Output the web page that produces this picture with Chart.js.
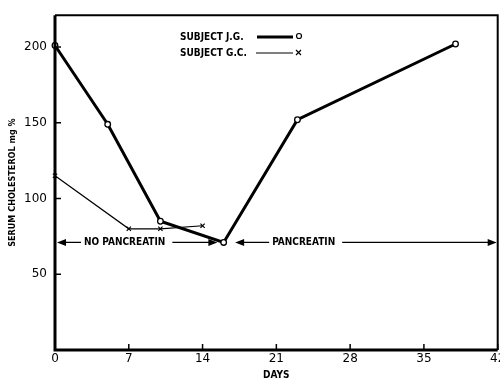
<!DOCTYPE html>
<html>
<head>
<script src="https://cdn.jsdelivr.net/npm/chart.js@4.4.1/dist/chart.umd.min.js"></script>
<style>
	body { margin: 0; background: #fff; overflow: hidden; }
	#wrap { width: 500px; height: 381px; overflow: hidden; }
</style>
</head>
<body>
<div id="wrap"><canvas id="myChart" width="503" height="381"></canvas></div>
<script>
	// serum cholesterol, mg %, by day
	var jgDays = [0, 5, 10, 16, 23, 38];
	var jgValues = [201, 149, 85, 71, 152, 202];
	var gcDays = [0, 7, 10, 14];
	var gcValues = [115, 80, 80, 82];
	var xTicks = [0, 7, 14, 21, 28, 35, 42];
	var yTicks = [50, 100, 150, 200];
	var seriesNames = ['SUBJECT J.G.', 'SUBJECT G.C.'];
	// treatment periods: [start day, end day, label]
	var periods = [[0, 15.5, 'NO PANCREATIN'], [16.9, 42, 'PANCREATIN']];
	var periodLevel = 71;

	var FONT = '"DejaVu Sans Condensed", "DejaVu Sans", sans-serif';
	var TICKFONT = '"DejaVu Sans", sans-serif';

	function pts(xs, ys) {
		return xs.map(function(x, i) { return { x: x, y: ys[i] }; });
	}

	var arrow = function(ctx, x, y, dir) {
		ctx.beginPath();
		ctx.moveTo(x, y);
		ctx.lineTo(x - dir * 9, y - 3.5);
		ctx.lineTo(x - dir * 9, y + 3.5);
		ctx.closePath();
		ctx.fill();
	};

	var decor = {
		id: 'decor',
		afterDraw: function(chart) {
			var ctx = chart.ctx, a = chart.chartArea;
			var xs = chart.scales.x, ys = chart.scales.y;
			ctx.save();
			ctx.strokeStyle = '#000';
			ctx.fillStyle = '#000';

			// frame
			ctx.lineWidth = 2;
			ctx.beginPath();
			ctx.moveTo(a.left, a.top); ctx.lineTo(a.right, a.top); ctx.lineTo(a.right, a.bottom);
			ctx.stroke();
			ctx.lineWidth = 3;
			ctx.beginPath();
			ctx.moveTo(a.left, a.top); ctx.lineTo(a.left, a.bottom); ctx.lineTo(a.right, a.bottom);
			ctx.stroke();

			// inward ticks
			ctx.lineWidth = 1.5;
			yTicks.forEach(function(v) {
				var py = ys.getPixelForValue(v);
				ctx.beginPath(); ctx.moveTo(a.left, py); ctx.lineTo(a.left + 6, py); ctx.stroke();
			});
			xTicks.forEach(function(v) {
				var px = xs.getPixelForValue(v);
				ctx.beginPath(); ctx.moveTo(px, a.bottom); ctx.lineTo(px, a.bottom - 6); ctx.stroke();
			});

			// period arrows
			ctx.font = 'bold 10px ' + FONT;
			ctx.textBaseline = 'middle';
			ctx.textAlign = 'center';
			ctx.lineWidth = 1.3;
			var py = ys.getPixelForValue(periodLevel);
			periods.forEach(function(p, i) {
				var x0 = xs.getPixelForValue(p[0]) + 2, x1 = xs.getPixelForValue(p[1]) - 1;
				var tw = ctx.measureText(p[2]).width;
				var tc = i === 0 ? x0 + 27 + tw / 2 : x0 + 37 + tw / 2;
				ctx.fillText(p[2], tc, py);
				ctx.beginPath();
				ctx.moveTo(x0 + 6, py); ctx.lineTo(tc - tw / 2 - 3, py);
				ctx.moveTo(tc + tw / 2 + 7, py); ctx.lineTo(x1 - 6, py);
				ctx.stroke();
				arrow(ctx, x0, py, -1);
				arrow(ctx, x1, py, 1);
			});

			// legend
			ctx.textAlign = 'left';
			ctx.fillText(seriesNames[0], 180, 37);
			ctx.fillText(seriesNames[1], 180, 53);
			ctx.lineWidth = 3;
			ctx.beginPath(); ctx.moveTo(257, 37); ctx.lineTo(293, 37); ctx.stroke();
			ctx.lineWidth = 1.2;
			ctx.beginPath(); ctx.moveTo(256, 53); ctx.lineTo(293, 53); ctx.stroke();
			ctx.beginPath(); ctx.arc(299, 36, 2.5, 0, Math.PI * 2); ctx.stroke();
			ctx.beginPath();
			ctx.moveTo(296, 50); ctx.lineTo(301, 55); ctx.moveTo(301, 50); ctx.lineTo(296, 55);
			ctx.stroke();
			ctx.restore();
		}
	};

	var config = {
		type: 'scatter',
		data: {
			datasets: [{
				label: seriesNames[0],
				data: pts(jgDays, jgValues),
				showLine: true,
				clip: false,
				borderColor: '#000',
				borderWidth: 3,
				pointStyle: 'circle',
				pointRadius: 2.8,
				pointBorderWidth: 1.3,
				pointBackgroundColor: '#fff',
				pointBorderColor: '#000'
			}, {
				label: seriesNames[1],
				data: pts(gcDays, gcValues),
				showLine: true,
				clip: false,
				borderColor: '#000',
				borderWidth: 1.2,
				pointStyle: 'crossRot',
				pointRadius: 3,
				pointBorderWidth: 1.2,
				pointBorderColor: '#000'
			}]
		},
		options: {
			responsive: false,
			animation: false,
			layout: { padding: { top: 14, right: 0, left: 0, bottom: 0 } },
			plugins: { legend: { display: false }, tooltip: { enabled: false } },
			scales: {
				x: {
					type: 'linear',
					min: 0, max: 42,
					afterBuildTicks: function(s) { s.ticks = xTicks.map(function(v) { return { value: v }; }); },
					afterFit: function(s) { s.height = 31; s.paddingLeft = 0; s.paddingRight = 0; },
					grid: { display: false, drawTicks: false },
					border: { display: false },
					ticks: { color: '#000', padding: 2, maxRotation: 0, font: { family: TICKFONT, size: 12 } },
					title: { display: true, text: 'DAYS', color: '#000', padding: { top: 0, bottom: 0 }, font: { family: FONT, size: 10, weight: 'bold' } }
				},
				y: {
					min: 0, max: 221,
					afterBuildTicks: function(s) { s.ticks = yTicks.map(function(v) { return { value: v }; }); },
					afterFit: function(s) { s.width = 55; },
					grid: { display: false, drawTicks: false },
					border: { display: false },
					ticks: { color: '#000', padding: 8, font: { family: TICKFONT, size: 12 } },
					title: { display: true, text: 'SERUM CHOLESTEROL mg %', color: '#000', padding: { top: 7, bottom: 0 }, font: { family: FONT, size: 9, weight: 'bold' } }
				}
			}
		},
		plugins: [decor]
	};

	window.onload = function() {
		var ctx = document.getElementById('myChart');
		window.myChart = new Chart(ctx, config);
	};
</script>
</body>
</html>
